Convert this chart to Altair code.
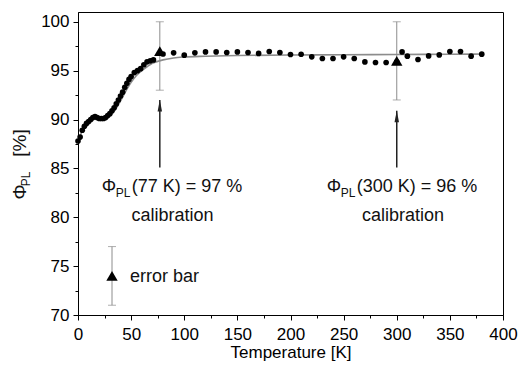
import altair as alt
import pandas as pd

# ---------------- data ----------------
dot_T = [0, 2, 4, 6, 8, 10, 12, 14, 16, 18, 20, 22, 24, 26, 28, 30, 32, 34, 36, 38,
         40, 42, 44, 46, 48, 50, 53, 56, 59, 62, 65, 68, 71, 80, 90, 100, 110, 120,
         130, 140, 150, 160, 170, 180, 190, 200, 210, 220, 230, 240, 250, 260, 270,
         280, 290, 300, 305, 310, 320, 330, 340, 350, 360, 370, 380]
dot_phi = [87.8, 88.2, 88.9, 89.3, 89.6, 89.8, 90.0, 90.2, 90.3, 90.2, 90.1, 90.1, 90.1,
           90.2, 90.4, 90.6, 90.9, 91.2, 91.6, 92.0, 92.4, 92.8, 93.3, 93.7, 94.1, 94.4,
           94.8, 95.0, 95.2, 95.6, 95.9, 96.0, 96.1, 96.7, 96.82, 96.58, 96.82, 96.92,
           96.92, 96.86, 96.92, 96.86, 96.76, 96.96, 96.86, 96.65, 96.68, 96.41, 96.24,
           96.24, 96.41, 96.24, 95.89, 95.83, 95.83, 95.9, 96.92, 96.48, 96.14, 96.51,
           96.61, 96.96, 96.96, 96.48, 96.69]

fit_T = [0, 3, 6, 10, 15, 20, 25, 30, 35, 40, 45, 50, 55, 60, 65, 70, 80, 90, 100,
         120, 150, 200, 250, 300, 350, 380]
fit_phi = [87.7, 88.6, 89.2, 89.7, 90.1, 90.1, 90.1, 90.4, 91.0, 91.9, 92.9, 93.8, 94.5,
           95.0, 95.4, 95.75, 96.1, 96.3, 96.4, 96.48, 96.55, 96.6, 96.62, 96.65,
           96.68, 96.7]

cal_T = [77, 300]
cal_phi = [97, 96]
cal_lo = [93, 92]
cal_hi = [100, 100]

leg_T = [32]
leg_phi = [74]
leg_lo = [71]
leg_hi = [77]

arrow_T = [77, 300]
arrow_base = [85.1, 85.1]
arrow_tip = [92.0, 90.9]

ann_T = [22.3, 234.1]
ann_phi = [83.1, 83.1]
ann_rest = ["(77 K) = 97 %", "(300 K) = 96 %"]

calib_T = [88.9, 305.9]
calib_phi = [80.15, 80.15]

errlab_T = [48.9]
errlab_phi = [73.9]

x_major = [0, 50, 100, 150, 200, 250, 300, 350, 400]
x_minor = [25, 75, 125, 175, 225, 275, 325, 375]
y_major = [70, 75, 80, 85, 90, 95, 100]
y_minor = [72.5, 77.5, 82.5, 87.5, 92.5, 97.5]

# ---------------- scales ----------------
FONT = "Liberation Sans"
xs = alt.Scale(domain=[0, 400], nice=False, zero=False)
ys = alt.Scale(domain=[70, 101], nice=False, zero=False)
GRAY = "#8c8c8c"
DARK = "#222222"

fit_df = pd.DataFrame({"T": fit_T, "phi": fit_phi})
dot_df = pd.DataFrame({"T": dot_T, "phi": dot_phi})
cal_df = pd.DataFrame({"T": cal_T + leg_T, "phi": cal_phi + leg_phi,
                       "lo": cal_lo + leg_lo, "hi": cal_hi + leg_hi})
cap_df = pd.DataFrame({"T": (cal_T + leg_T) * 2,
                       "v": cal_lo + leg_lo + cal_hi + leg_hi})
arr_df = pd.DataFrame({"T": arrow_T, "base": arrow_base, "tip": arrow_tip})
ann_df = pd.DataFrame({"T": ann_T, "phi": ann_phi, "rest": ann_rest})
calib_df = pd.DataFrame({"T": calib_T, "phi": calib_phi})
errlab_df = pd.DataFrame({"T": errlab_T, "phi": errlab_phi})
one = pd.DataFrame({"a": [0]})

X = lambda f="T": alt.X(f"{f}:Q", scale=xs, axis=alt.Axis(
    values=x_major, title="Temperature [K]", tickSize=5, labelPadding=6,
    labelFontSize=17, titleFontSize=17, titleFontWeight="normal", titlePadding=2,
    grid=False, labelFlush=False))
Y = lambda f="phi": alt.Y(f"{f}:Q", scale=ys, axis=alt.Axis(
    values=y_major, title=None, tickSize=5, labelPadding=4, labelFontSize=17,
    grid=False))

fit = alt.Chart(fit_df).mark_line(color=GRAY, strokeWidth=1.6, interpolate="monotone").encode(
    x=X(), y=Y())

dots = alt.Chart(dot_df).mark_circle(color="black", size=32, opacity=1).encode(
    x=alt.X("T:Q", scale=xs), y=alt.Y("phi:Q", scale=ys))

err = alt.Chart(cal_df).mark_rule(color=GRAY, strokeWidth=1).encode(
    x=alt.X("T:Q", scale=xs), y=alt.Y("lo:Q", scale=ys), y2="hi:Q")
caps = alt.Chart(cap_df).mark_tick(color=GRAY, orient="horizontal", size=8, thickness=1).encode(
    x=alt.X("T:Q", scale=xs), y=alt.Y("v:Q", scale=ys))
tri = alt.Chart(cal_df).mark_point(shape="triangle-up", filled=True, color="black",
                                   size=130, opacity=1).encode(
    x=alt.X("T:Q", scale=xs), y=alt.Y("phi:Q", scale=ys))

shaft = alt.Chart(arr_df).mark_rule(color=DARK, strokeWidth=1.5).encode(
    x=alt.X("T:Q", scale=xs), y=alt.Y("base:Q", scale=ys), y2="tip:Q")
head = alt.Chart(arr_df).mark_point(shape="M0,0L0.45,2.3L-0.45,2.3Z", filled=True,
                                    color=DARK, size=100, opacity=1).encode(
    x=alt.X("T:Q", scale=xs), y=alt.Y("tip:Q", scale=ys))

def txt(df, text, size, dx=0, dy=0, align="left", field=None):
    m = alt.Chart(df).mark_text(font=FONT, fontSize=size, align=align, baseline="middle",
                                dx=dx, dy=dy, color="#111111",
                                **({} if field else {"text": text}))
    enc = dict(x=alt.X("T:Q", scale=xs), y=alt.Y("phi:Q", scale=ys))
    if field:
        enc["text"] = alt.Text(f"{field}:N")
    return m.encode(**enc)

phi1 = txt(ann_df, "Φ", 18)
pl1 = txt(ann_df, "PL", 12, dx=14, dy=6)
rest1 = txt(ann_df, None, 18, dx=30, field="rest")
calib = txt(calib_df, "calibration", 18, align="center")
errlab = txt(errlab_df, "error bar", 18)

def ytitle(text, size, xv, yv, align="center"):
    return alt.Chart(one).mark_text(text=text, font=FONT, fontSize=size, angle=270,
                                    align=align, baseline="middle", color="#111111").encode(
        x=alt.value(xv), y=alt.value(yv))

yt1 = ytitle("Φ", 19, -58, 180)
yt2 = ytitle("PL", 12, -52, 167)
yt3 = ytitle("[%]", 19, -58, 131)

minor = alt.Chart(dot_df).mark_circle(opacity=0, size=1).encode(
    x=alt.X("T:Q", scale=xs, axis=alt.Axis(values=x_minor, labels=False, tickSize=3,
                                           domain=False, grid=False, title=None,
                                           orient="bottom")),
    y=alt.Y("phi:Q", scale=ys, axis=alt.Axis(values=y_minor, labels=False, tickSize=3,
                                             domain=False, grid=False, title=None,
                                             orient="left")))

main = alt.layer(fit, err, caps, dots, tri, shaft, head, phi1, pl1, rest1, calib, errlab,
                 yt1, yt2, yt3)

chart = alt.layer(main, minor).resolve_axis(x="independent", y="independent").properties(
    width=425, height=303,
    padding={"left": 78, "top": 12, "right": 17, "bottom": 51},
    autosize=alt.AutoSizeParams(type="none"),
).configure_view(stroke="black", strokeWidth=1).configure_axis(
    domainColor="black", tickColor="black", labelColor="black", titleColor="black",
    labelFont=FONT, titleFont=FONT, domainWidth=1, tickWidth=1
)

chart.save("out.html", embed_options={"renderer": "svg", "actions": False})
